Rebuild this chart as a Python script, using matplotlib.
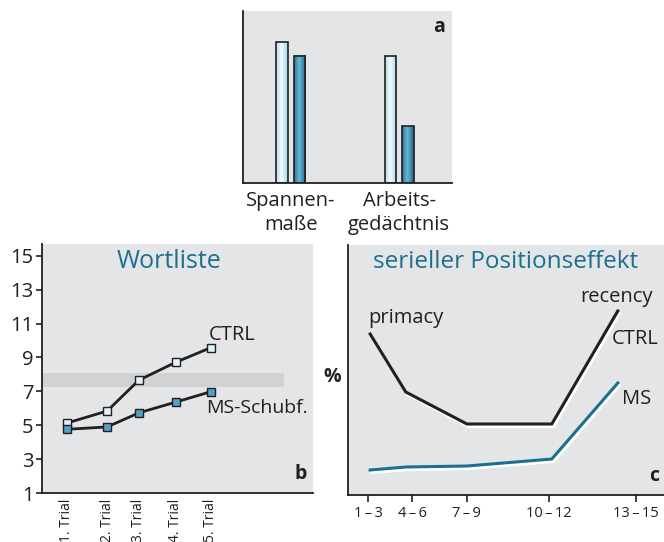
import numpy as np
import matplotlib
matplotlib.use("Agg")
import matplotlib.pyplot as plt
import matplotlib.patheffects as pe

plt.rcParams["font.family"] = ["Open Sans", "DejaVu Sans"]

BG = "#e4e5e7"
TEAL = "#1b6f8f"
DARK = "#231f20"

# panel a: bar values (arbitrary units, 0..100)
bar_groups = ["Spannen-\nmaße", "Arbeits-\ngedächtnis"]
bar_ctrl = [82, 74]
bar_ms = [74, 33]

# panel b: word list learning
trials = ["1. Trial", "2. Trial", "3. Trial", "4. Trial", "5. Trial"]
trial_pos = [0.69, 1.81, 2.69, 3.72, 4.69]
wl_ctrl = [5.13, 5.84, 7.66, 8.72, 9.58]
wl_ms = [4.76, 4.90, 5.73, 6.37, 6.98]
norm_band = (7.28, 8.09)

# panel c: serial position effect
pos_labels = ["1\u2009\u2013\u20093", "4\u2009\u2013\u20096", "7\u2009\u2013\u20099",
              "10\u2009\u2013\u200912", "13\u2009\u2013\u200915"]
pos_ticks = [1, 2, 3.25, 5.11, 7.09]
curve_x = [1.05, 1.86, 3.25, 5.18, 6.68]
sp_ctrl = [64.4, 41.2, 28.4, 28.4, 73.6]
sp_ms = [10.0, 11.2, 11.6, 14.4, 44.8]

fig = plt.figure(figsize=(6.64, 5.42), dpi=100)


def style(ax):
    ax.set_facecolor(BG)
    for s in ["top", "right"]:
        ax.spines[s].set_visible(False)
    for s in ["left", "bottom"]:
        ax.spines[s].set_color(DARK)
        ax.spines[s].set_linewidth(1.3)


def gradient_bar(ax, bar, c_edge, c_mid):
    x0, w, h = bar.get_x(), bar.get_width(), bar.get_height()
    t = np.linspace(0, 1, 64)
    prof = np.abs(t - 0.45) * 2
    cols = np.array([matplotlib.colors.to_rgb(c_mid)]) * (1 - prof[:, None]) + \
        np.array([matplotlib.colors.to_rgb(c_edge)]) * prof[:, None]
    ax.imshow(cols[None, :, :], extent=(x0, x0 + w, 0, h), aspect="auto",
              zorder=2, interpolation="bilinear")


# ---- a
ax_a = fig.add_axes([0.366, 0.6624, 0.315, 0.3173])
style(ax_a)
gx = np.array([0.228, 0.746])
off = 0.042
bw = 0.055
b1 = ax_a.bar(gx - off, bar_ctrl, bw, facecolor="none", edgecolor=DARK, lw=1.2, zorder=3)
b2 = ax_a.bar(gx + off, bar_ms, bw, facecolor="none", edgecolor=DARK, lw=1.2, zorder=3)
for b in b1:
    gradient_bar(ax_a, b, "#a9d6ec", "#f4fbfe")
for b in b2:
    gradient_bar(ax_a, b, "#1f6f90", "#6cb7d3")
ax_a.set_xlim(0, 1)
ax_a.set_ylim(0, 100)
ax_a.set_yticks([])
ax_a.set_xticks(gx)
ax_a.set_xticklabels(bar_groups, fontsize=14.5, color=DARK, linespacing=1.25)
ax_a.tick_params(axis="x", length=0, pad=6)
ax_a.text(0.935, 0.905, "a", transform=ax_a.transAxes, fontsize=14, fontweight="bold",
          ha="center", va="center", color=DARK)

# ---- b
ax_b = fig.add_axes([0.0633, 0.0904, 0.408, 0.4594])
style(ax_b)
ax_b.set_xlim(0, 7.53)
ax_b.set_ylim(1, 15.7)
ax_b.axhspan(norm_band[0], norm_band[1], xmax=0.893, color="#d1d2d4", lw=0, zorder=1)
ax_b.plot(trial_pos, wl_ctrl, color=DARK, lw=2, marker="s", ms=5.5,
          mfc="#dff1fa", mec=DARK, mew=1.0, zorder=3)
ax_b.plot(trial_pos, wl_ms, color=DARK, lw=2, marker="s", ms=5.5,
          mfc="#4fa3c6", mec=DARK, mew=1.0, zorder=3)
ax_b.set_yticks(range(1, 16, 2))
ax_b.tick_params(axis="y", labelsize=14.5, length=4, width=1.2, color=DARK,
                 labelcolor=DARK, pad=2)
ax_b.set_xticks(trial_pos)
ax_b.set_xticklabels(trials, rotation=90, fontsize=10, color=DARK)
ax_b.tick_params(axis="x", length=0, pad=4)
ax_b.text(0.47, 0.93, "Wortliste", transform=ax_b.transAxes, fontsize=18,
          color=TEAL, ha="center", va="center")
ax_b.text(4.63, 10.3, "CTRL", fontsize=14.5, color=DARK, ha="left", va="center")
ax_b.text(4.55, 6.0, "MS-Schubf.", fontsize=14, color=DARK, ha="left", va="center")
ax_b.text(0.955, 0.075, "b", transform=ax_b.transAxes, fontsize=14, fontweight="bold",
          ha="center", va="center", color=DARK)

# ---- c
ax_c = fig.add_axes([0.524, 0.0867, 0.476, 0.4613])
style(ax_c)
ax_c.set_xlim(0.545, 7.73)
ax_c.set_ylim(0, 100)
shadow = [pe.SimpleLineShadow(offset=(1.2, -1.8), shadow_color="white", alpha=1),
          pe.Normal()]
ax_c.plot(curve_x, sp_ctrl, color=DARK, lw=2.2, solid_joinstyle="miter",
          path_effects=shadow, zorder=3)
ax_c.plot(curve_x, sp_ms, color=TEAL, lw=2.2, solid_joinstyle="miter",
          path_effects=shadow, zorder=3)
ax_c.set_yticks([])
ax_c.set_xticks(pos_ticks)
ax_c.set_xticklabels(pos_labels, fontsize=10.5, color=DARK)
ax_c.tick_params(axis="x", length=5, width=1.2, color=DARK, pad=3, direction="out")
ax_c.text(0.5, 0.93, "serieller Positionseffekt", transform=ax_c.transAxes,
          fontsize=17.5, color=TEAL, ha="center", va="center")
ax_c.text(1.0, 70.8, "primacy", fontsize=14.5, color=DARK, ha="left", va="center")
ax_c.text(5.82, 79.2, "recency", fontsize=14.5, color=DARK, ha="left", va="center")
ax_c.text(6.55, 62.4, "CTRL", fontsize=14.5, color=DARK, ha="left", va="center")
ax_c.text(6.77, 38.4, "MS", fontsize=14.5, color=DARK, ha="left", va="center")
ax_c.text(-0.05, 0.47, "%", transform=ax_c.transAxes, fontsize=14,
          fontweight="bold", color=DARK, ha="center", va="center")
ax_c.text(0.97, 0.075, "c", transform=ax_c.transAxes, fontsize=14, fontweight="bold",
          ha="center", va="center", color=DARK)

fig.savefig("out.png", dpi=100)
